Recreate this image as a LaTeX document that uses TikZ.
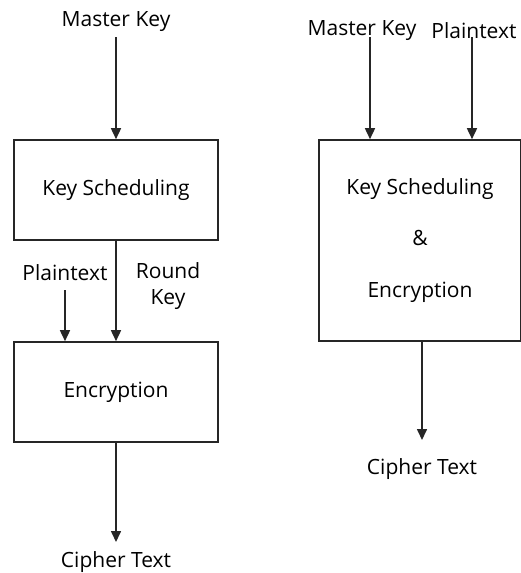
\documentclass[tikz,border=0pt]{standalone}
\usepackage{fontspec}
\setmainfont{Open Sans}
\usetikzlibrary{arrows.meta, positioning}

\begin{document}
\begin{tikzpicture}[
    x=1pt, y=-1pt,
    font=\fontsize{21}{25}\selectfont,
    box/.style={rectangle, draw=black!85, line width=1.6pt, minimum width=204pt, minimum height=100pt, align=center},
    lbl/.style={inner sep=0pt, align=center},
    arrow/.style={-{Triangle[length=11pt, width=10pt]}, line width=1.6pt, draw=black!85}
]
\useasboundingbox (0,0) rectangle (521,573);

% separate key scheduling and encryption
\node[box] (keysched) at (116,190) {Key Scheduling};
\node[box] (encrypt) at (116,392) {Encryption};
\node[lbl] (masterkey) at (116,22) {Master Key};
\node[lbl] (plaintext) at (65,273) {Plaintext};
\node[lbl, font=\fontsize{21}{26}\selectfont] (roundkey) at (168,286) {Round\\Key};
\node[lbl] (ciphertext) at (116,562) {Cipher Text};

\coordinate (mkin) at (116,37);
\coordinate (ptin) at (65,290);
\coordinate (ctout) at (116,542);
\draw[arrow] (mkin) -- (keysched.north);
\draw[arrow] (keysched) -- (encrypt);
\draw[arrow] (ptin) -- (ptin |- encrypt.north);
\draw[arrow] (encrypt) -- (ctout);

% combined key scheduling and encryption
\node[box, minimum width=202pt, minimum height=201pt, font=\fontsize{21}{51.5}\selectfont] (combined) at (420,240.5) {Key Scheduling\\\&\\Encryption};
\node[lbl] (masterkey2) at (362,31) {Master Key};
\node[lbl] (plaintext2) at (474,31) {Plaintext};
\node[lbl] (ciphertext2) at (422,469) {Cipher Text};

\coordinate (mkin2) at (370,37);
\coordinate (ptin2) at (472,37);
\coordinate (ctout2) at (422,440);
\draw[arrow] (mkin2) -- (mkin2 |- combined.north);
\draw[arrow] (ptin2) -- (ptin2 |- combined.north);
\draw[arrow] (ctout2 |- combined.south) -- (ctout2);

\end{tikzpicture}
\end{document}
